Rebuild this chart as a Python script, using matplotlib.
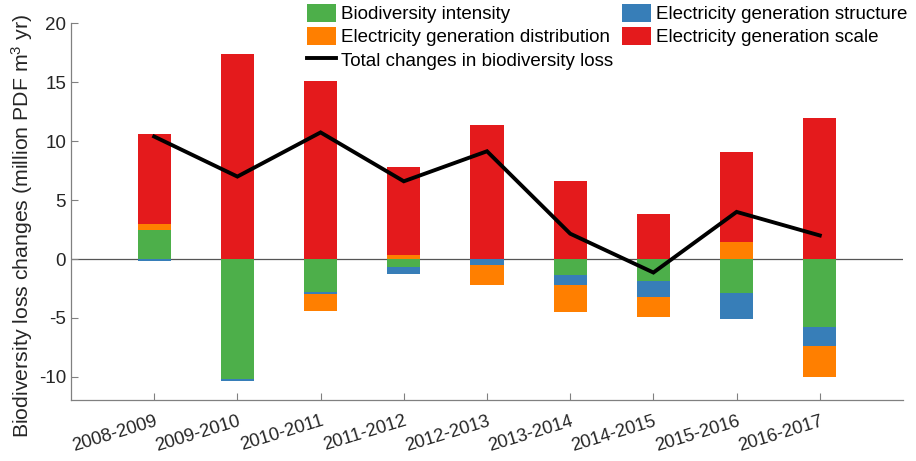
import numpy as np
import matplotlib
matplotlib.use("Agg")
import matplotlib.pyplot as plt
from matplotlib.patches import Patch
from matplotlib.lines import Line2D

plt.rcParams['font.family'] = ['Liberation Sans', 'DejaVu Sans']
plt.rcParams['mathtext.fontset'] = 'custom'
plt.rcParams['mathtext.rm'] = 'Liberation Sans'
plt.rcParams['mathtext.it'] = 'Liberation Sans'
plt.rcParams['axes.unicode_minus'] = False

categories = ['2008-2009', '2009-2010', '2010-2011', '2011-2012', '2012-2013',
              '2013-2014', '2014-2015', '2015-2016', '2016-2017']
intensity = [2.5, -10.2, -2.8, -0.64, 0.0, -1.35, -1.83, -2.91, -5.8]
structure = [-0.2, -0.12, -0.2, -0.62, -0.55, -0.85, -1.36, -2.18, -1.62]
distribution = [0.5, -0.05, -1.38, 0.3, -1.68, -2.3, -1.73, 1.43, -2.61]
scale = [7.65, 17.4, 15.1, 7.55, 11.39, 6.62, 3.79, 7.69, 12.0]
total = [10.4, 7.0, 10.75, 6.6, 9.15, 2.15, -1.15, 4.0, 2.0]

series = [intensity, structure, distribution, scale]
names = ['Biodiversity intensity', 'Electricity generation structure',
         'Electricity generation distribution', 'Electricity generation scale']
colors = ['#4DAF4A', '#377EB8', '#FF7F00', '#E41A1C']

fig = plt.figure(figsize=(9.16, 4.61), dpi=100)
ax = fig.add_axes([71/916, 1 - 400.3/461, (903 - 71)/916, (400.3 - 23.5)/461])

x = np.arange(1, len(categories) + 1)
pos_bottom = np.zeros(len(x))
neg_bottom = np.zeros(len(x))
for vals, c in zip(series, colors):
    v = np.array(vals, dtype=float)
    bottom = np.where(v >= 0, pos_bottom, neg_bottom)
    ax.bar(x, v, width=0.4, bottom=bottom, color=c, edgecolor='none', zorder=2)
    pos_bottom = pos_bottom + np.where(v >= 0, v, 0)
    neg_bottom = neg_bottom + np.where(v < 0, v, 0)

ax.axhline(0, color='#555555', lw=0.9, zorder=1)
ax.plot(x, total, color='black', lw=2.8, zorder=3, solid_joinstyle='miter')

ax.set_xlim(0, 10)
ax.set_ylim(-12, 20)
ax.set_yticks([-10, -5, 0, 5, 10, 15, 20])
ax.set_xticks(x)
ax.set_xticklabels(categories, rotation=17, ha='right', rotation_mode='anchor')
ax.tick_params(direction='in', length=5, width=0.8, colors='#808080',
               labelcolor='#262626', labelsize=13.5)
ax.tick_params(axis='x', pad=9, labelsize=13.2)
for s in ['top', 'right']:
    ax.spines[s].set_visible(False)
for s in ['left', 'bottom']:
    ax.spines[s].set_color('#808080')
    ax.spines[s].set_linewidth(0.9)

ax.set_ylabel(r'Biodiversity loss changes (million PDF m$^{3}$ yr)',
              fontsize=15.3, color='#262626', va='center')
ax.yaxis.set_label_coords((22 - 71) / 832, (400.3 - 226) / 376.8)

h = [Patch(facecolor=c, edgecolor='none') for c in colors]
hl = Line2D([], [], color='black', lw=2.8)
handles = [h[0], h[2], hl, h[1], h[3]]
labels = [names[0], names[2], 'Total changes in biodiversity loss', names[1], names[3]]
fig.legend(handles, labels, ncol=2, loc='upper left',
           bbox_to_anchor=(307/916, 1 - 4/461), frameon=False, fontsize=13.5,
           borderpad=0, borderaxespad=0, labelspacing=0.2, handlelength=1.55,
           handleheight=1.1, handletextpad=0.25, columnspacing=0.5)

fig.savefig('out.png', dpi=100)
